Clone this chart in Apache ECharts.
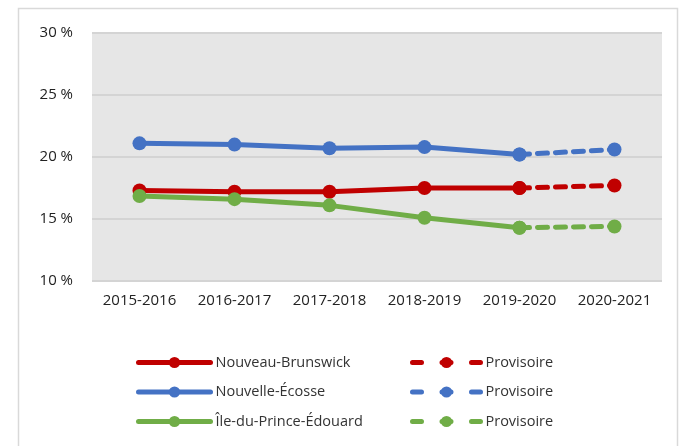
<!DOCTYPE html>
<html>
<head>
<meta charset="utf-8">
<script src="https://cdn.jsdelivr.net/npm/echarts@6/dist/echarts.min.js"></script>
<style>
	html, body { margin: 0; padding: 0; background: #fff; }
	#chart { width: 680px; height: 446px; }
</style>
</head>
<body>
<div id="chart"></div>
<script>
	var years = ['2015-2016', '2016-2017', '2017-2018', '2018-2019', '2019-2020', '2020-2021'];
	var yTicks = [10, 15, 20, 25, 30];

	// valeurs finales (trait plein) et provisoires (pointillés)
	var nbFinal = [17.3, 17.2, 17.2, 17.5, 17.5, null];
	var nbProv = [null, null, null, null, 17.5, 17.7];
	var neFinal = [21.1, 21.0, 20.7, 20.8, 20.2, null];
	var neProv = [null, null, null, null, 20.2, 20.6];
	var ipeFinal = [16.85, 16.6, 16.1, 15.1, 14.3, null];
	var ipeProv = [null, null, null, null, 14.3, 14.4];

	var red = '#c00000', blue = '#4472c4', green = '#70ad47';
	var font = '"Open Sans", "Noto Sans", sans-serif';

	function serie(name, data, color, dashed) {
		return {
			name: name,
			type: 'line',
			data: data,
			symbol: 'circle',
			symbolSize: 14,
			connectNulls: false,
			itemStyle: { color: color },
			lineStyle: { color: color, width: 5, type: dashed ? [10, 8] : 'solid', cap: 'round' },
			emphasis: { disabled: true },
			z: dashed ? 2 : 3
		};
	}

	var legendText = { fontSize: 14.5, color: '#333', fontFamily: font };

	var myChart = echarts.init(document.getElementById('chart'));
	myChart.setOption({
		animation: false,
		textStyle: { fontFamily: font },
		graphic: [{
			type: 'rect',
			shape: { x: 18.5, y: 8.5, width: 659, height: 460 },
			style: { fill: 'none', stroke: '#d9d9d9', lineWidth: 1.5 },
			silent: true
		}],
		grid: {
			left: 92, right: 18, top: 33, bottom: 165,
			show: true,
			backgroundColor: '#e6e6e6',
			borderWidth: 0
		},
		legend: [{
			orient: 'vertical',
			left: 131, top: 350,
			itemWidth: 72, itemHeight: 14, itemGap: 14.5,
			lineStyle: { width: 5 },
			textStyle: legendText,
			data: ['Nouveau-Brunswick', 'Nouvelle-Écosse', 'Île-du-Prince-Édouard']
		}, {
			orient: 'vertical',
			left: 405, top: 350,
			itemWidth: 68, itemHeight: 14, itemGap: 14.5,
			lineStyle: { width: 5, type: [9, 20.5] },
			textStyle: legendText,
			formatter: function () { return 'Provisoire'; },
			data: ['Provisoire NB', 'Provisoire NE', 'Provisoire IPE']
		}],
		xAxis: [{
			type: 'category',
			data: years,
			boundaryGap: true,
			axisLine: { show: false },
			axisTick: { show: false },
			axisLabel: { interval: 0, margin: 12, fontSize: 15, color: '#222', fontFamily: font }
		}],
		yAxis: [{
			type: 'value',
			min: yTicks[0],
			max: yTicks[yTicks.length - 1],
			interval: 5,
			axisLine: { show: false },
			axisTick: { show: false },
			splitLine: { lineStyle: { color: '#d4d4d4', width: 2 } },
			axisLabel: { margin: 19, fontSize: 15, color: '#222', fontFamily: font, formatter: '{value} %' }
		}],
		series: [
			serie('Nouveau-Brunswick', nbFinal, red, false),
			serie('Nouvelle-Écosse', neFinal, blue, false),
			serie('Île-du-Prince-Édouard', ipeFinal, green, false),
			serie('Provisoire NB', nbProv, red, true),
			serie('Provisoire NE', neProv, blue, true),
			serie('Provisoire IPE', ipeProv, green, true)
		]
	});
</script>
</body>
</html>
